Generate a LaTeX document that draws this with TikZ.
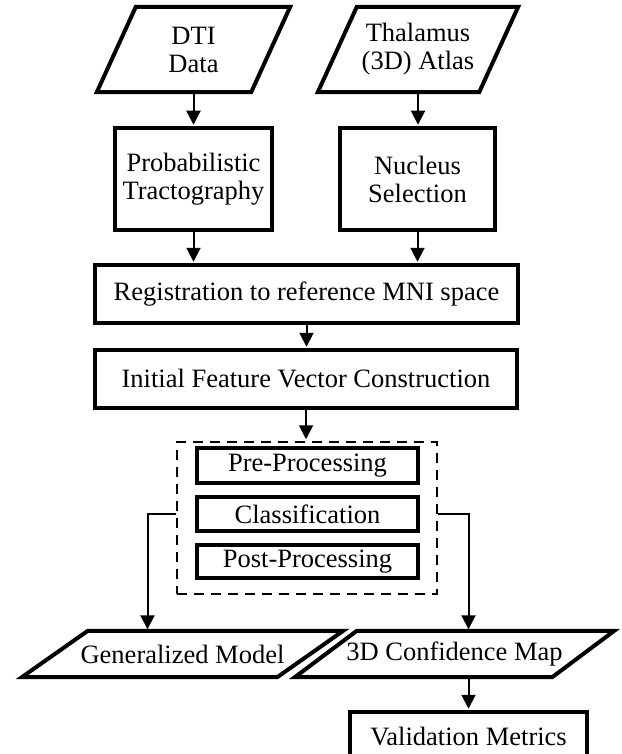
\documentclass[tikz,border=0pt]{standalone}
\usepackage{fontspec}
\setmainfont{Liberation Serif}
\usetikzlibrary{arrows.meta,calc}
\tikzset{
  lbl/.style={font=\fontsize{26.5}{28}\selectfont, align=center, inner sep=0pt},
  box/.style={lbl, draw, rectangle, line width=3.5pt},
  iobox/.style={lbl, rectangle, draw=none},
  paraline/.style={line width=4pt, line join=miter},
  arr/.style={line width=2pt, -{Triangle[width=14pt,length=14pt]}, shorten >=1.5pt},
  dashbox/.style={draw, rectangle, line width=2.5pt, dash pattern=on 10pt off 7pt},
}
\begin{document}
\begin{tikzpicture}[x=1pt,y=-1pt]
\clip (0,0) rectangle (621,754);
\fill[white] (0,0) rectangle (621,754);

% input / output nodes (parallelograms drawn below)
\node[iobox, minimum width=193pt, minimum height=85pt] (dti) at (193.5,49.5) {DTI\\Data};
\node[iobox, minimum width=200pt, minimum height=85pt] (thal) at (418,49.5) {Thalamus\\(3D) Atlas};
\node[iobox, minimum width=321pt, minimum height=46pt] (gen) at (182.5,654) {Generalized Model};
\node[iobox, minimum width=319pt, minimum height=46pt] (conf) at (454.5,654) {3D Confidence Map};

\draw[paraline] ([xshift=39pt]dti.north west) -- (dti.north east) -- ([xshift=-39pt]dti.south east) -- (dti.south west) -- cycle;
\draw[paraline] ([xshift=39pt]thal.north west) -- (thal.north east) -- ([xshift=-39pt]thal.south east) -- (thal.south west) -- cycle;
\draw[paraline] ([xshift=66pt]gen.north west) -- (gen.north east) -- ([xshift=-66pt]gen.south east) -- (gen.south west) -- cycle;
\draw[paraline] ([xshift=62pt]conf.north west) -- (conf.north east) -- ([xshift=-62pt]conf.south east) -- (conf.south west) -- cycle;

% process boxes
\node[box, minimum width=157pt, minimum height=102pt] (prob) at (193.5,179) {Probabilistic\\Tractography};
\node[box, minimum width=155pt, minimum height=102pt] (nuc) at (417.5,179) {Nucleus\\Selection};
\node[box, minimum width=423pt, minimum height=58pt] (reg) at (306.5,294) {Registration to reference MNI space};
\node[box, minimum width=422pt, minimum height=58pt] (init) at (306,379) {Initial Feature Vector Construction};

\node[dashbox, minimum width=260pt, minimum height=152pt] (grp) at (307,518) {};
\node[box, minimum width=221pt, minimum height=35pt] (pre) at (307.5,465.5) {Pre-Processing};
\node[box, minimum width=221pt, minimum height=34pt] (cls) at (307.5,514) {Classification};
\node[box, minimum width=221pt, minimum height=33pt] (post) at (307.5,561.5) {Post-Processing};

\node[box, minimum width=237pt, minimum height=48pt] (val) at (468.5,736) {Validation Metrics};

% connectors
\draw[arr] (dti.south) -- (dti.south |- prob.north);
\draw[arr] (thal.south) -- (thal.south |- nuc.north);
\draw[arr] (prob.south) -- (prob.south |- reg.north);
\draw[arr] (nuc.south) -- (nuc.south |- reg.north);
\draw[arr] (reg.south) -- (reg.south |- init.north);
\draw[arr] (init.south) -- (init.south |- grp.north);
\draw[arr] (grp.west |- cls.west) -| ([xshift=-35pt]gen.north);
\draw[arr] (grp.east |- cls.east) -| ([xshift=14pt]conf.north);
\draw[arr] (val.north |- conf.south) -- (val.north);
\end{tikzpicture}
\end{document}
